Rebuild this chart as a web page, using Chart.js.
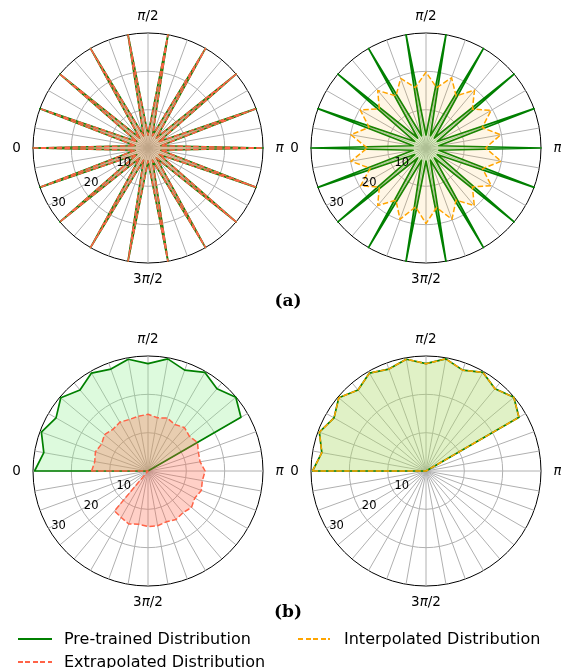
<!DOCTYPE html>
<html><head><meta charset="utf-8">
<script src="https://cdn.jsdelivr.net/npm/chart.js@4/dist/chart.umd.min.js"></script>
<style>
html,body{margin:0;padding:0;background:#fff;}
#wrap{position:relative;width:561px;height:668px;overflow:hidden;background:#fff;font-family:"DejaVu Sans",sans-serif;}
.pc{position:absolute;width:300px;height:300px;}
.cap{position:absolute;font-family:"DejaVu Serif",serif;font-weight:bold;font-size:17px;transform:translate(-50%,-50%);line-height:1;}
.leg{position:absolute;font-size:16px;line-height:1;transform:translateY(-50%);white-space:nowrap;color:#000;}
.ln{position:absolute;width:34px;}
</style></head>
<body><div id="wrap">
<div class="pc" style="left:-2px;top:-2px"><canvas id="c0" width="300" height="300"></canvas></div>
<div class="pc" style="left:276px;top:-2px"><canvas id="c1" width="300" height="300"></canvas></div>
<div class="pc" style="left:-2px;top:321px"><canvas id="c2" width="300" height="300"></canvas></div>
<div class="pc" style="left:276px;top:321px"><canvas id="c3" width="300" height="300"></canvas></div>
<div class="cap" style="left:288px;top:300px">(a)</div>
<div class="cap" style="left:288px;top:611px">(b)</div>
<div class="ln" style="left:18px;top:638px;height:1.7px;background:#008000"></div>
<div class="leg" style="left:64px;top:639px">Pre-trained Distribution</div>
<div class="ln" style="left:298px;top:638px;width:32px;height:1.5px;background:repeating-linear-gradient(90deg,#ffa500 0 5px,transparent 5px 7.5px)"></div>
<div class="leg" style="left:344px;top:639px">Interpolated Distribution</div>
<div class="ln" style="left:18px;top:661px;height:1.5px;background:repeating-linear-gradient(90deg,#ff6347 0 5px,transparent 5px 7.5px)"></div>
<div class="leg" style="left:64px;top:662px">Extrapolated Distribution</div>
</div>
<script>
// ---- categories (angle in degrees, clockwise from the left) ----
const thetaDeg = [0,10,20,30,40,50,60,70,80,90,100,110,120,130,140,150,160,170,
                  180,190,200,210,220,230,240,250,260,270,280,290,300,310,320,330,340,350];
const angleTickIdx = [0, 9, 18, 27];
const angleTickLabels = ['0', 'π/2', 'π', '3π/2'];
const rTicks = [0, 10, 20, 30];
const rLabelValues = [10, 20, 30];
const rTickLabels = ['10', '20', '30'];
const rMax = 30;

// ---- panel (a) ----
const preA    = [30,3.4,30,3.4,30,3.4,30,3.4,30,3.4,30,3.4,30,3.4,30,3.4,30,3.4,
                 30,3.4,30,3.4,30,3.4,30,3.4,30,3.4,30,3.4,30,3.4,30,3.4,30,3.4];
const extraA  = [30,3.4,30,3.4,30,3.4,30,3.4,30,3.4,30,3.4,30,3.4,30,3.4,30,3.4,
                 30,3.4,30,3.4,30,3.4,30,3.4,30,3.4,30,3.4,30,3.4,30,3.4,30,3.4];
const interpA = [15.3,19.9,15.8,19.8,15.9,19.6,15.7,19.3,16.0,19.8,16.0,19.5,15.7,19.7,15.8,19.6,15.6,19.8,
                 15.5,19.9,15.7,19.7,15.8,19.6,15.7,19.8,15.8,19.7,15.6,19.8,15.7,19.6,15.9,19.7,15.5,19.9];

// ---- panel (b) ----
const preB    = [29.6,27.6,29.6,27.7,29.7,27.6,29.5,28.3,29.6,28.0,29.7,28.0,29.7,28.0,29.9,28.0,0,0,
                 0,0,0,0,0,0,0,0,0,0,0,0,0,0,0,0,0,0];
const extraB  = [14.7,14.1,14.6,14.0,14.8,14.2,14.7,14.3,14.5,14.8,14.1,14.7,14.0,14.8,14.1,14.9,14.0,13.8,
                 14.9,14.4,14.8,14.1,14.8,14.2,14.6,14.1,14.5,14.5,14.1,14.7,14.0,13.6,0,0,0,0];
const interpB = [29.6,27.6,29.6,27.7,29.7,27.6,29.5,28.3,29.6,28.0,29.7,28.0,29.7,28.0,29.9,28.0,0,0,
                 0,0,0,0,0,0,0,0,0,0,0,0,0,0,0,0,0,0];

const GREEN = '#008000', GREEN_FILL = 'rgba(144,238,144,0.3)';
const RED = '#ff6347', RED_FILL = 'rgba(255,99,71,0.3)';
const ORANGE = '#ffa500', ORANGE_FILL = 'rgba(255,165,0,0.1)';

function drawMath(ctx, text, x, y, size) {
  const parts = [];
  for (const ch of text) parts.push({t: ch, it: ch === 'π'});
  let total = 0;
  parts.forEach(p => {
    ctx.font = (p.it ? 'italic ' : '') + size + 'px "DejaVu Sans"';
    p.w = ctx.measureText(p.t).width; total += p.w;
  });
  let cx = x - total / 2;
  ctx.textAlign = 'left'; ctx.textBaseline = 'middle';
  parts.forEach(p => {
    ctx.font = (p.it ? 'italic ' : '') + size + 'px "DejaVu Sans"';
    ctx.fillText(p.t, cx, y); cx += p.w;
  });
}

const labelPlugin = {
  id: 'polarLabels',
  afterDraw(chart) {
    const s = chart.scales.r, ctx = chart.ctx;
    ctx.save();
    ctx.fillStyle = '#000';
    angleTickIdx.forEach((idx, k) => {
      const p = s.getPointPosition(idx, s.drawingArea + 16.5);
      drawMath(ctx, angleTickLabels[k], p.x, p.y, 13.5);
    });
    ctx.font = '11.5px "DejaVu Sans"'; ctx.textAlign = 'center'; ctx.textBaseline = 'middle';
    rLabelValues.forEach((v, k) => {
      const p = s.getPointPosition(32.85, s.getDistanceFromCenterForValue(v) - 10);
      ctx.fillText(rTickLabels[k], p.x, p.y);
    });
    ctx.restore();
  }
};

function ds(data, color, fill, dashed, width) {
  return {data, borderColor: color, backgroundColor: fill, fill: 'origin',
          borderWidth: width, borderDash: dashed ? [5.5, 2.4] : [], tension: 0,
          pointRadius: 0, pointHoverRadius: 0, borderJoinStyle: 'round'};
}

function makeChart(id, datasets) {
  new Chart(document.getElementById(id), {
    type: 'radar',
    data: {labels: thetaDeg, datasets},
    options: {
      responsive: false, animation: false,
      layout: {padding: {left: 35, right: 34, top: 35, bottom: 34}},
      plugins: {legend: {display: false}, tooltip: {enabled: false}},
      scales: {r: {
        min: 0, max: rMax, startAngle: -90,
        ticks: {display: false, stepSize: 10},
        afterBuildTicks: sc => { sc.ticks = rTicks.map(v => ({value: v})); },
        grid: {circular: true,
               color: c => (c.tick && c.tick.value === rMax) ? '#000' : '#b0b0b0',
               lineWidth: 1},
        angleLines: {color: '#b0b0b0', lineWidth: 1},
        pointLabels: {display: false}
      }}
    },
    plugins: [labelPlugin]
  });
}

makeChart('c0', [ds(extraA, RED, RED_FILL, true, 1.5), ds(preA, GREEN, GREEN_FILL, false, 1.7)]);
makeChart('c1', [ds(interpA, ORANGE, ORANGE_FILL, true, 1.5), ds(preA, GREEN, GREEN_FILL, false, 1.7)]);
makeChart('c2', [ds(extraB, RED, RED_FILL, true, 1.5), ds(preB, GREEN, GREEN_FILL, false, 1.7)]);
makeChart('c3', [ds(interpB, ORANGE, ORANGE_FILL, true, 1.5), ds(preB, GREEN, GREEN_FILL, false, 1.7)]);
</script>
</body></html>
